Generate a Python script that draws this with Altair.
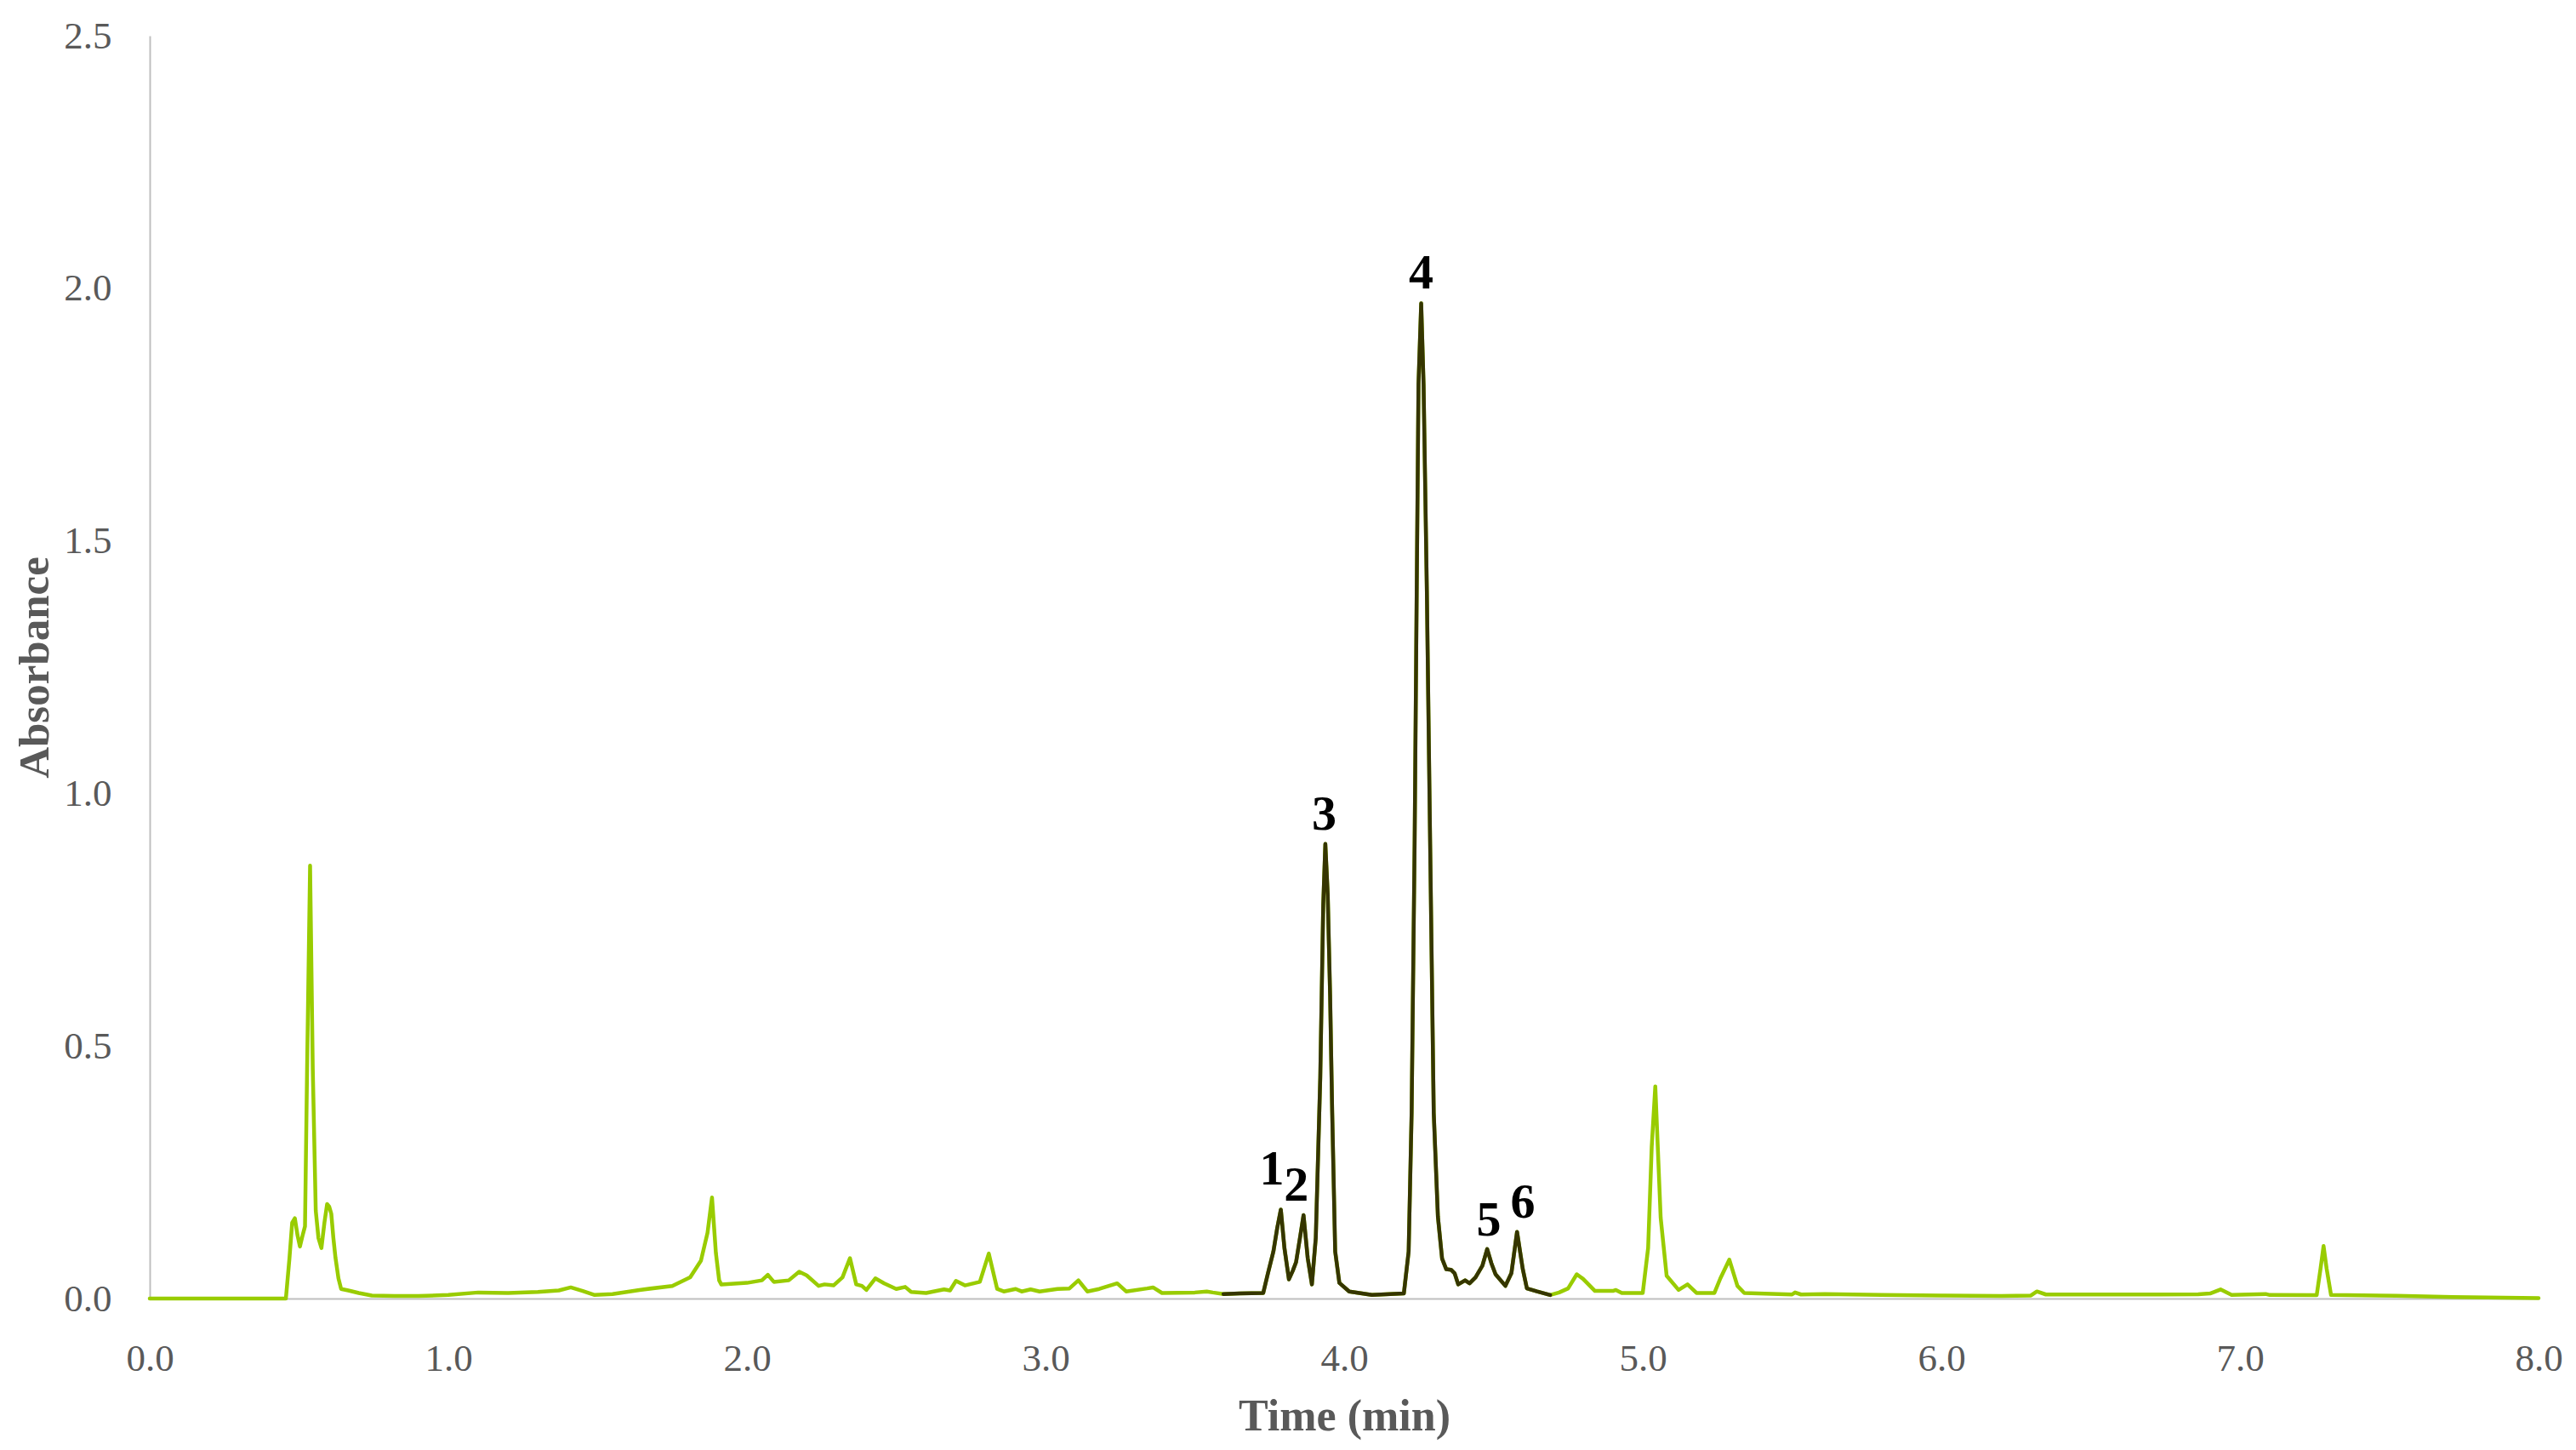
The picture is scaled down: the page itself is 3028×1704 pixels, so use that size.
import altair as alt
import pandas as pd

# Chromatogram trace (time in min, absorbance in AU)
time_min = [
    0.0, 0.456, 0.468, 0.477, 0.486, 0.495, 0.503, 0.512, 0.52, 0.527, 0.537, 0.546,
    0.556, 0.565, 0.575, 0.585, 0.594, 0.601, 0.608, 0.615, 0.622, 0.632, 0.641, 0.665,
    0.70, 0.744, 0.82, 0.9, 1.0, 1.1, 1.2, 1.3, 1.37, 1.41, 1.45, 1.49, 1.55, 1.64,
    1.75, 1.81, 1.846, 1.868, 1.883, 1.896, 1.907, 1.914, 2.0, 2.05, 2.07, 2.09, 2.14,
    2.175, 2.2, 2.24, 2.26, 2.29, 2.32, 2.345, 2.366, 2.385, 2.40, 2.43, 2.46, 2.50,
    2.53, 2.55, 2.60, 2.66, 2.68, 2.70, 2.73, 2.78, 2.81, 2.838, 2.86, 2.90, 2.92,
    2.95, 2.98, 3.04, 3.08, 3.11, 3.14, 3.18, 3.24, 3.27, 3.34, 3.36, 3.39, 3.50,
    3.54, 3.56, 3.596, 3.65, 3.729, 3.744, 3.763, 3.776, 3.788, 3.80, 3.815, 3.828,
    3.839, 3.852, 3.864, 3.878, 3.892, 3.905, 3.92, 3.93, 3.937, 3.945, 3.953, 3.96,
    3.97, 3.984, 4.017, 4.093, 4.2, 4.216, 4.226, 4.236, 4.243, 4.249, 4.258, 4.266,
    4.277, 4.288, 4.30, 4.314, 4.328, 4.342, 4.358, 4.37, 4.382, 4.405, 4.42, 4.44,
    4.463, 4.479, 4.493, 4.507, 4.54, 4.56, 4.579, 4.598, 4.612, 4.646, 4.69, 4.72,
    4.75, 4.779, 4.80, 4.84, 4.90, 4.91, 4.93, 5.0, 5.018, 5.03, 5.042, 5.06, 5.08,
    5.12, 5.15, 5.18, 5.24, 5.26, 5.29, 5.317, 5.34, 5.5, 5.51, 5.53, 5.61, 5.8, 6.0,
    6.2, 6.3, 6.32, 6.35, 6.5, 6.7, 6.86, 6.90, 6.935, 6.972, 7.086, 7.1, 7.257, 7.27,
    7.28, 7.29, 7.305, 7.523, 7.713, 8.0,
]
absorbance = [
    0.0, 0.0, 0.08, 0.15, 0.159, 0.125, 0.103, 0.125, 0.143, 0.455, 0.857, 0.455,
    0.174, 0.12, 0.10, 0.15, 0.187, 0.182, 0.168, 0.12, 0.081, 0.04, 0.019, 0.016,
    0.011, 0.006, 0.005, 0.005, 0.007, 0.012, 0.011, 0.013, 0.016, 0.022, 0.015, 0.007,
    0.009, 0.017, 0.025, 0.042, 0.075, 0.13, 0.2, 0.09, 0.036, 0.028, 0.031, 0.036,
    0.047, 0.033, 0.036, 0.053, 0.046, 0.025, 0.028, 0.026, 0.042, 0.08, 0.028, 0.025,
    0.017, 0.04, 0.03, 0.019, 0.023, 0.013, 0.011, 0.018, 0.016, 0.035, 0.026, 0.033,
    0.089, 0.019, 0.014, 0.019, 0.014, 0.018, 0.014, 0.019, 0.02, 0.036, 0.014, 0.019,
    0.03, 0.014, 0.02, 0.022, 0.011, 0.012, 0.014, 0.012, 0.009, 0.010, 0.011, 0.048,
    0.093, 0.14, 0.176, 0.10, 0.038, 0.055, 0.072, 0.12, 0.165, 0.08, 0.028, 0.12,
    0.437, 0.78, 0.90, 0.80, 0.60, 0.368, 0.093, 0.031, 0.014, 0.007, 0.010, 0.093,
    0.368, 0.9, 1.40, 1.81, 1.97, 1.81, 1.40, 0.9, 0.368, 0.162, 0.079, 0.058, 0.057,
    0.05, 0.028, 0.036, 0.03, 0.042, 0.065, 0.098, 0.07, 0.048, 0.025, 0.05, 0.132,
    0.059, 0.02, 0.014, 0.007, 0.012, 0.02, 0.048, 0.039, 0.015, 0.015, 0.017, 0.011,
    0.011, 0.1, 0.3, 0.42, 0.16, 0.045, 0.017, 0.028, 0.011, 0.011, 0.04, 0.077, 0.025,
    0.011, 0.008, 0.012, 0.008, 0.009, 0.007, 0.006, 0.005, 0.006, 0.014, 0.008, 0.008,
    0.008, 0.0084, 0.01, 0.018, 0.007, 0.009, 0.007, 0.0067, 0.06, 0.104, 0.06, 0.007,
    0.0056, 0.003, 0.001,
]

# Highlighted (dark) part of the trace
dark_start = 3.596
dark_end = 4.69

# Peak annotations
peak_labels = ["1", "2", "3", "4", "5", "6"]
label_time = [3.758, 3.84, 3.933, 4.258, 4.484, 4.598]
label_abs = [0.225, 0.194, 0.928, 2.0, 0.124, 0.16]

x_ticks = [0, 1, 2, 3, 4, 5, 6, 7, 8]
y_ticks = [0, 0.5, 1.0, 1.5, 2.0, 2.5]

GREEN = "#99CC00"
DARK = "#353500"
GRAY = "#595959"
FONT = "Liberation Serif"

trace = pd.DataFrame({"t": time_min, "a": absorbance})
dark = trace[(trace["t"] >= dark_start) & (trace["t"] <= dark_end)]
labels = pd.DataFrame({"t": label_time, "a": label_abs, "lab": peak_labels})

x_enc = alt.X(
    "t:Q",
    scale=alt.Scale(domain=[0, 8], nice=False, zero=False),
    axis=alt.Axis(
        title="Time (min)", values=x_ticks, format=".1f", labelFlush=False,
        labelOverlap=False, labelPadding=48, titleBaseline="alphabetic",
        titleX=1404, titleY=154,
    ),
)
y_enc = alt.Y(
    "a:Q",
    scale=alt.Scale(domain=[0, 2.5], nice=False, zero=True),
    axis=alt.Axis(
        title="Absorbance", values=y_ticks, format=".1f", labelFlush=False,
        labelOverlap=False, labelPadding=45, titleBaseline="alphabetic",
        titleAngle=-90, titleX=-120, titleY=742, titleFontSize=51,
    ),
)

green_line = alt.Chart(trace).mark_line(
    color=GREEN, strokeWidth=4.5, strokeJoin="round", strokeCap="round"
).encode(x=x_enc, y=y_enc)

dark_line = alt.Chart(dark).mark_line(
    color=DARK, strokeWidth=4.5, strokeJoin="round", strokeCap="round"
).encode(x="t:Q", y="a:Q")

text = alt.Chart(labels).mark_text(
    font=FONT, fontSize=58, fontWeight="bold", color="#000000",
    align="center", baseline="alphabetic",
).encode(x="t:Q", y="a:Q", text="lab:N")

chart = (
    alt.layer(green_line, dark_line, text)
    .properties(
        width=2808,
        height=1484,
        autosize=alt.AutoSizeParams(type="none"),
        padding={"left": 168, "top": 34, "right": 30, "bottom": 170},
        background="white",
    )
    .configure_view(stroke=None)
    .configure_axis(
        grid=False,
        ticks=False,
        domainColor="#BFBFBF",
        domainWidth=2,
        labelColor=GRAY,
        labelFont=FONT,
        labelFontSize=45,
        titleColor=GRAY,
        titleFont=FONT,
        titleFontSize=52,
        titleFontWeight="bold",
    )
)

chart.save("out.html", embed_options={"renderer": "svg", "actions": False})
